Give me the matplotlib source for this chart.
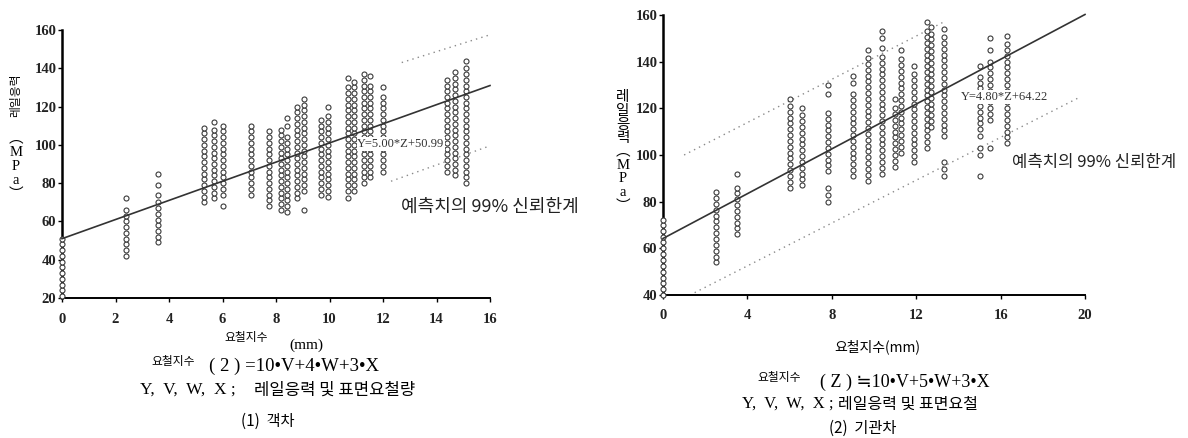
import matplotlib
matplotlib.use('Agg')
import matplotlib.pyplot as plt

KR = ['Noto Sans CJK KR', 'DejaVu Sans']
SERIF = ['Liberation Serif', 'Noto Sans CJK KR']

# (1) 객차 - columns of measured points: x positions and y values
left_x = [0, 2.4, 3.6, 5.3, 5.7, 6.0, 7.05, 7.75, 8.2, 8.4, 8.8, 9.05, 9.7, 9.95,
          10.7, 10.9, 11.3, 11.5, 12.0, 14.4, 14.7, 15.1]
left_y = [
    [21, 24, 27, 30, 33, 36, 39, 42, 45, 48, 51],
    [42, 45, 48, 51, 54, 57, 60, 63, 66, 72],
    [49, 52, 55, 58, 61, 64, 67, 70, 74, 79, 85],
    [70, 73, 76, 79, 82, 85, 88, 91, 94, 97, 100, 103, 106, 109],
    [72, 75, 78, 81, 84, 87, 90, 93, 96, 99, 102, 105, 108, 112],
    [68, 74, 77, 80, 83, 86, 89, 92, 95, 98, 101, 104, 107, 110],
    [74, 77, 80, 83, 86, 89, 92, 95, 98, 101, 104, 107, 110],
    [68, 71, 74, 77, 80, 83, 86, 89, 92, 95, 98, 101, 104, 107],
    [66, 69, 72, 75, 78, 81, 84, 87, 90, 93, 96, 99, 102, 105, 108],
    [65, 68, 71, 74, 77, 80, 83, 86, 89, 92, 95, 98, 101, 104, 110, 114],
    [72, 75, 78, 81, 84, 87, 90, 93, 96, 99, 102, 105, 108, 111, 114, 117, 120],
    [66, 76, 79, 82, 85, 88, 91, 94, 97, 100, 103, 106, 109, 112, 115, 118, 121, 124],
    [74, 77, 80, 83, 86, 89, 92, 95, 98, 101, 104, 107, 110, 113],
    [73, 76, 79, 82, 85, 88, 91, 94, 97, 100, 103, 106, 109, 112, 115, 120],
    [72, 76, 79, 82, 85, 88, 91, 94, 97, 100, 103, 106, 109, 112, 115, 118, 121, 124, 127, 130, 135],
    [76, 79, 82, 85, 88, 91, 94, 97, 100, 103, 106, 109, 112, 115, 118, 121, 124, 127, 130, 133],
    [80, 83, 86, 89, 92, 95, 98, 101, 104, 107, 110, 113, 116, 119, 122, 125, 128, 131, 134, 137],
    [83, 86, 89, 92, 95, 98, 101, 104, 107, 110, 113, 116, 119, 122, 125, 128, 131, 136],
    [86, 89, 92, 95, 98, 104, 107, 110, 113, 116, 119, 122, 125, 130],
    [86, 89, 92, 95, 98, 101, 104, 107, 110, 113, 116, 119, 122, 125, 128, 131, 134],
    [84, 87, 90, 93, 96, 99, 102, 105, 108, 111, 114, 117, 120, 123, 126, 129, 132, 135, 138],
    [80, 83, 86, 89, 92, 95, 98, 101, 104, 107, 110, 113, 116, 119, 122, 125, 128, 131, 134, 137, 140, 144],
]
left_fit = (5.00, 50.99)
left_fit_label = 'Y=5.00*Z+50.99'
left_upper_x = [12.7, 16.0]
left_upper_y = [143, 157.5]
left_lower_x = [12.3, 15.9]
left_lower_y = [81, 99]

# (2) 기관차
right_x = [0, 2.5, 3.5, 6.0, 6.6, 7.8, 9.0, 9.7, 10.4, 11.0, 11.3, 11.9, 12.5, 12.7,
           13.3, 15.0, 15.5, 16.3]
right_y = [
    [40, 42.5, 45, 47.5, 50, 52.5, 55, 57.5, 60, 62.5, 65, 67.5, 70, 72],
    [54, 56.5, 59, 61.5, 64, 66.5, 69, 71.5, 74, 76.5, 79, 81.5, 84],
    [66, 68.5, 71, 73.5, 76, 78.5, 81, 83.5, 86, 92],
    [86, 88.5, 91, 93.5, 96, 98.5, 101, 103.5, 106, 108.5, 111, 113.5, 116, 118.5, 121, 124],
    [87, 89.5, 92, 94.5, 97, 99.5, 102, 104.5, 107, 109.5, 112, 114.5, 117, 120],
    [80, 83, 86, 93, 95.5, 98, 100.5, 103, 105.5, 108, 110.5, 113, 115.5, 118, 126, 130],
    [91, 93.5, 96, 98.5, 101, 103.5, 106, 108.5, 111, 113.5, 116, 118.5, 121, 123.5, 126, 131, 134],
    [89, 91.5, 94, 96.5, 99, 101.5, 104, 106.5, 109, 111.5, 114, 116.5, 119, 121.5, 124, 126.5,
     129, 131.5, 134, 136.5, 139, 141.5, 145],
    [92, 94.5, 97, 99.5, 102, 104.5, 107, 109.5, 112, 114.5, 117, 119.5, 122, 124.5, 127, 129.5,
     132, 134.5, 137, 139.5, 142, 146, 150, 153],
    [95, 97.5, 100, 102.5, 105, 107.5, 110, 112.5, 115, 117.5, 120, 124],
    [101, 103.5, 106, 108.5, 111, 113.5, 116, 118.5, 121, 123.5, 126, 128.5, 131, 133.5, 136,
     138.5, 141, 145],
    [97, 99.5, 102, 104.5, 107, 109.5, 112, 114.5, 117, 119.5, 122, 124.5, 127, 129.5, 132, 134.5, 138],
    [103, 105.5, 108, 110.5, 113, 115.5, 118, 120.5, 123, 125.5, 128, 130.5, 133, 135.5, 138,
     140.5, 143, 145.5, 148, 150.5, 153, 157],
    [112, 114.5, 117, 119.5, 122, 124.5, 127, 129.5, 132, 134.5, 137, 139.5, 142, 144.5, 147,
     149.5, 152, 155],
    [91, 94, 97, 108, 110.5, 113, 115.5, 118, 120.5, 123, 125.5, 128, 130.5, 133, 135.5, 138,
     140.5, 143, 145.5, 148, 150.5, 154],
    [91, 100, 103, 108, 111, 113.5, 116, 118.5, 121, 123.5, 126, 128.5, 131, 133.5, 138],
    [103, 115, 117.5, 120, 122.5, 125, 127.5, 130, 132.5, 135, 137.5, 140, 145, 150],
    [105, 107.5, 110, 112.5, 115, 117.5, 120, 122.5, 125, 127.5, 130, 132.5, 135, 137.5, 140,
     142.5, 145, 147.5, 151],
]
right_fit = (4.80, 64.22)
right_fit_label = 'Y=4.80*Z+64.22'
right_upper_x = [1.0, 13.3]
right_upper_y = [100, 157]
right_lower_x = [1.5, 19.8]
right_lower_y = [41, 125]

W, H = 1188, 438
fig = plt.figure(figsize=(W / 100, H / 100), dpi=100)


def fx(px):
    return px / W


def fy(py):
    return 1 - py / H


def panel(rect, xs, ys, fit, xmax, ylim, xticks, yticks, up, lo, xpad):
    ax = fig.add_axes(rect)
    for x, col in zip(xs, ys):
        ax.plot([x] * len(col), col, 'o', ms=3.6, mfc='white', mec='#3a3a3a', mew=0.8,
                clip_on=False, zorder=3)
    a, b = fit
    ax.plot([0, xmax], [b, b + a * xmax], color='#333333', lw=1.2, zorder=4, clip_on=False)
    ax.plot(up[0], up[1], color='#8a8a8a', lw=1.0, ls=(0, (1, 3)))
    ax.plot(lo[0], lo[1], color='#8a8a8a', lw=1.0, ls=(0, (1, 3)))
    ax.set_xlim(0, xmax)
    ax.set_ylim(*ylim)
    ax.set_xticks(xticks)
    ax.set_yticks(yticks)
    for s in ['top', 'right']:
        ax.spines[s].set_visible(False)
    ax.spines['left'].set_linewidth(1.8)
    ax.spines['bottom'].set_linewidth(1.4)
    ax.tick_params(direction='out', length=3, width=1, pad=1, labelsize=10.5)
    ax.tick_params(axis='x', pad=xpad)
    for lab in ax.get_xticklabels() + ax.get_yticklabels():
        lab.set_family(SERIF)
        lab.set_weight('bold')
        lab.set_color('#222222')
    return ax


ax1 = panel([fx(62), fy(298), fx(490) - fx(62), fy(30) - fy(298)],
            left_x, left_y, left_fit, 16, (20, 160), range(0, 17, 2), range(20, 161, 20),
            (left_upper_x, left_upper_y), (left_lower_x, left_lower_y), 8)
ax2 = panel([fx(663), fy(295), fx(1085) - fx(663), fy(15) - fy(295)],
            right_x, right_y, right_fit, 20, (40, 160), range(0, 21, 4), range(40, 161, 20),
            (right_upper_x, right_upper_y), (right_lower_x, right_lower_y), 7)

# regression labels
fig.text(fx(401), fy(144), left_fit_label, family=SERIF, fontsize=9, ha='center', va='center',
         color='#333333', bbox=dict(fc='white', ec='none', pad=0.5), zorder=10)
fig.text(fx(1005), fy(97), right_fit_label, family=SERIF, fontsize=9, ha='center', va='center',
         color='#333333', bbox=dict(fc='white', ec='none', pad=0.5), zorder=10)

fig.text(fx(490), fy(207), '예측치의 99% 신뢰한계', family=KR, fontsize=13, ha='center', va='center',
         color='#222222')
fig.text(fx(1094), fy(163), '예측치의 99% 신뢰한계', family=KR, fontsize=12, ha='center', va='center',
         color='#222222')

# y axis labels
fig.text(fx(16), fy(95), '레일응력', family=KR, fontsize=8.5, rotation=90, ha='center', va='center')
fig.text(fx(16), fy(167), '︵\nM\nP\na\n︶', family=SERIF + KR, fontsize=10.5, ha='center', va='center',
         linespacing=1.1)
fig.text(fx(623), fy(152), '레\n일\n응\n력\n︵\nM\nP\na\n︶', family=SERIF + KR, fontsize=10.5,
         ha='center', va='center', linespacing=1.05)

# captions under panel 1
fig.text(fx(246), fy(337), '요철지수', family=KR, fontsize=8.5, ha='center', va='center')
fig.text(fx(306), fy(345), '(mm)', family=SERIF, fontsize=11, ha='center', va='center')
fig.text(fx(173), fy(362), '요철지수', family=KR, fontsize=8.5, ha='center', va='center')
fig.text(fx(209), fy(366), '( 2 ) =10•V+4•W+3•X', family=SERIF, fontsize=13.5,
         ha='left', va='center')
fig.text(fx(140), fy(390), 'Y,  V,  W,  X ;', family=SERIF, fontsize=12.5,
         ha='left', va='center')
fig.text(fx(254), fy(390), '레일응력 및 표면요철량', family=KR, fontsize=12, ha='left', va='center')
fig.text(fx(268), fy(421), '(1)  객차', family=KR, fontsize=11, ha='center', va='center')

# captions under panel 2
fig.text(fx(877), fy(347), '요철지수(mm)', family=KR, fontsize=10, ha='center', va='center')
fig.text(fx(779), fy(378), '요철지수', family=KR, fontsize=8.5, ha='center', va='center')
fig.text(fx(820), fy(382), '( Z ) ≒10•V+5•W+3•X', family=SERIF + KR, fontsize=13,
         ha='left', va='center')
fig.text(fx(742), fy(404), 'Y,  V,  W,  X ;', family=SERIF, fontsize=12,
         ha='left', va='center')
fig.text(fx(838), fy(404), '레일응력 및 표면요철', family=KR, fontsize=11.5, ha='left', va='center')
fig.text(fx(863), fy(428), '(2)  기관차', family=KR, fontsize=11, ha='center', va='center')

fig.savefig('out.png', dpi=100)
